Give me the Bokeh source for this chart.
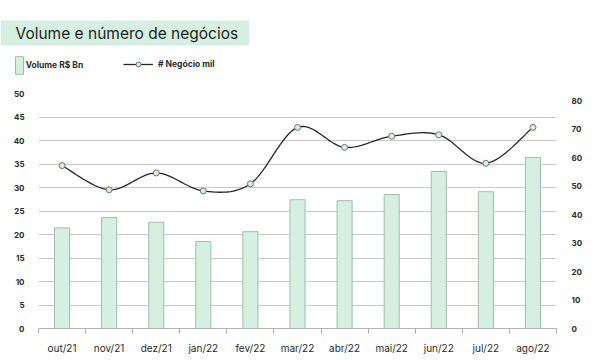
import numpy as np
from bokeh.plotting import figure
from bokeh.layouts import column
from bokeh.models import (Range1d, LinearAxis, FixedTicker, Label, Legend, LegendItem)
from bokeh.embed import file_html
from bokeh.resources import INLINE

# ---- data ----
months = ["out/21", "nov/21", "dez/21", "jan/22", "fev/22", "mar/22",
          "abr/22", "mai/22", "jun/22", "jul/22", "ago/22"]
volume = [21.4, 23.6, 22.6, 18.5, 20.6, 27.4, 27.2, 28.5, 33.4, 29.1, 36.4]
negocios = [57.2, 48.7, 54.6, 48.3, 50.8, 70.6, 63.6, 67.5, 68.0, 58.0, 70.6]
left_ticks = [0, 5, 10, 15, 20, 25, 30, 35, 40, 45, 50]
right_ticks = [0, 10, 20, 30, 40, 50, 60, 70, 80]

title_text = "Volume e número de negócios"
bar_label = "Volume R$ Bn"
line_label = "# Negócio mil"

# ---- styles ----
MINT = "#d5f0e1"
BAR_LINE = "#9cbfab"
GRID = "#c9c9c9"
TXT = "#2a2a2a"
LINE = "#262626"
DOT_LINE = "#5f7d6d"
FONT = "Inter"

xs = list(range(len(months)))

# ================= header (title + legend) =================
head = figure(width=596, height=80, output_backend="svg", toolbar_location=None,
              x_range=Range1d(0, 596), y_range=Range1d(80, 0),
              x_axis_location=None, y_axis_location=None,
              min_border=0, outline_line_color=None)
head.frame_align = False
head.xgrid.visible = False
head.ygrid.visible = False
# off-screen ranges used only so that the legend renderers have data
head.extra_x_ranges = {"offx": Range1d(1000, 2000)}
head.extra_y_ranges = {"offy": Range1d(1000, 2000)}

title = Label(x=0, y=32.5, text=title_text,
              text_font=FONT, text_font_size="15.5px", text_color="#1e1e1e",
              text_baseline="middle", text_align="left",
              background_fill_color=MINT,
              padding=dict(left=15, right=11, top=3, bottom=3))
head.add_layout(title)

hb = head.vbar(x=xs, top=volume, width=0.32, x_range_name="offx", y_range_name="offy",
               fill_color=MINT, line_color=BAR_LINE, line_width=1)
hl = head.line(xs, negocios, x_range_name="offx", y_range_name="offy",
               line_color=LINE, line_width=1.3)
hd = head.scatter(xs, negocios, x_range_name="offx", y_range_name="offy",
                  marker="circle", size=6,
                  fill_color=MINT, line_color=DOT_LINE, line_width=1)

leg_style = dict(orientation="horizontal", padding=0, margin=0,
                 border_line_color=None, background_fill_alpha=0,
                 label_text_font=FONT, label_text_font_size="8.5px",
                 label_text_font_style="bold", label_text_color=TXT,
                 label_text_baseline="middle")
leg1 = Legend(items=[LegendItem(label=bar_label, renderers=[hb])],
              location=(13.7, 4.2), glyph_width=10, glyph_height=22,
              label_height=22, label_standoff=2, **leg_style)
leg2 = Legend(items=[LegendItem(label=line_label, renderers=[hl, hd])],
              location=(123, 10), glyph_width=30, glyph_height=12,
              label_height=12, label_standoff=5, **leg_style)
head.add_layout(leg1)
head.add_layout(leg2)

# ================= main chart =================
p = figure(width=596, height=280, output_backend="svg", toolbar_location=None,
           x_range=Range1d(-0.5, len(months) - 0.5), y_range=Range1d(0, 50),
           min_border_left=38, min_border_right=40, min_border_top=13,
           min_border_bottom=32, outline_line_color=None)
p.frame_align = False
p.extra_y_ranges = {"neg": Range1d(0, 82.5)}

p.xgrid.visible = False
p.ygrid.grid_line_color = GRID
p.ygrid.grid_line_width = 1

ya = p.yaxis[0]
ya.ticker = FixedTicker(ticks=left_ticks)
ya.axis_line_color = None
ya.major_tick_line_color = None
ya.minor_tick_line_color = None
ya.major_label_standoff = 8
ya.major_label_text_font = FONT
ya.major_label_text_font_size = "8px"
ya.major_label_text_font_style = "bold"
ya.major_label_text_color = TXT

ra = LinearAxis(y_range_name="neg", ticker=FixedTicker(ticks=right_ticks))
ra.axis_line_color = None
ra.major_tick_line_color = None
ra.minor_tick_line_color = None
ra.major_label_standoff = 9
ra.major_label_text_font = FONT
ra.major_label_text_font_size = "8px"
ra.major_label_text_font_style = "bold"
ra.major_label_text_color = TXT
p.add_layout(ra, "right")

xa = p.xaxis[0]
bounds = [i - 0.5 for i in range(len(months) + 1)]
xa.ticker = FixedTicker(ticks=xs, minor_ticks=bounds)
xa.major_label_overrides = {i: m for i, m in enumerate(months)}
xa.axis_line_color = "#b5b5b5"
xa.major_tick_line_color = None
xa.major_tick_out = 0
xa.major_tick_in = 0
xa.minor_tick_line_color = "#a8a8a8"
xa.minor_tick_out = 5
xa.minor_tick_in = 0
xa.major_label_standoff = 8
xa.major_label_text_font = FONT
xa.major_label_text_font_size = "10px"
xa.major_label_text_color = TXT

p.vbar(x=xs, top=volume, width=0.32, fill_color=MINT, line_color=BAR_LINE, line_width=1)

# smooth curve through the data points (Catmull-Rom / Bezier)
pts = np.column_stack([xs, negocios]).astype(float)
ext = np.vstack([pts[0], pts, pts[-1]])
sx_all, sy_all = [], []
ts = np.linspace(0, 1, 25)
nseg = len(pts) - 1
for k in range(nseg):
    p0, p1, p2, p3 = ext[k], ext[k + 1], ext[k + 2], ext[k + 3]
    c1 = p1 + (p2 - p0) / 6.0
    c2 = p2 - (p3 - p1) / 6.0
    tt = ts if k == nseg - 1 else ts[:-1]
    for t in tt:
        b = ((1 - t) ** 3) * p1 + 3 * ((1 - t) ** 2) * t * c1 + 3 * (1 - t) * t * t * c2 + t ** 3 * p2
        sx_all.append(b[0])
        sy_all.append(b[1])

p.line(sx_all, sy_all, y_range_name="neg", line_color=LINE, line_width=1.3)
p.scatter(xs, negocios, y_range_name="neg", marker="circle", size=6,
          fill_color=MINT, line_color=DOT_LINE, line_width=1)

layout = column(head, p, spacing=0)
open("out.html", "w").write(file_html(layout, INLINE))
